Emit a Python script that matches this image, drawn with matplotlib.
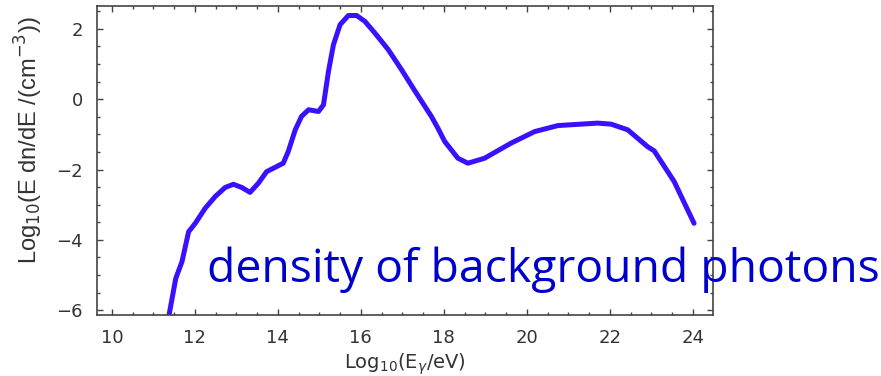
import matplotlib
matplotlib.use("Agg")
import matplotlib.pyplot as plt
from matplotlib.ticker import MultipleLocator

# curve: log10(E_gamma/eV) vs log10(E dn/dE)
log_e = [11.20, 11.37, 11.54, 11.69, 11.85, 12.01, 12.25, 12.49, 12.73, 12.93,
         13.13, 13.33, 13.53, 13.73, 13.93, 14.13, 14.25, 14.42, 14.57, 14.74,
         14.98, 15.10, 15.22, 15.34, 15.50, 15.70, 15.90, 16.10, 16.34, 16.66,
         16.98, 17.30, 17.70, 17.86, 18.02, 18.34, 18.58, 18.98, 19.62, 20.19,
         20.75, 21.71, 22.03, 22.43, 22.67, 22.91, 23.07, 23.55, 24.03]
log_n = [-6.80, -6.19, -5.10, -4.62, -3.77, -3.53, -3.10, -2.77, -2.51, -2.42,
         -2.51, -2.65, -2.39, -2.06, -1.94, -1.82, -1.49, -0.87, -0.49, -0.30,
         -0.35, -0.16, 0.79, 1.55, 2.12, 2.38, 2.38, 2.21, 1.88, 1.41,
         0.84, 0.24, -0.49, -0.83, -1.20, -1.68, -1.82, -1.68, -1.25, -0.92,
         -0.75, -0.68, -0.71, -0.87, -1.11, -1.35, -1.47, -2.34, -3.53]

x_ticks = [10, 12, 14, 16, 18, 20, 22, 24]
y_ticks = [-6, -4, -2, 0, 2]

fig = plt.figure(figsize=(8.81, 3.76), dpi=100)
ax = fig.add_axes([0.110, 0.162, 0.699, 0.822])

ax.plot(log_e, log_n, color="#3a10ff", lw=3.6, solid_capstyle="round",
        solid_joinstyle="round")

ax.set_xlim(9.64, 24.48)
ax.set_ylim(-6.14, 2.65)
ax.set_xticks(x_ticks)
ax.set_yticks(y_ticks)
ax.set_yticklabels(["\u22126", "\u22124", "\u22122", "0", "2"])
ax.xaxis.set_minor_locator(MultipleLocator(0.5))
ax.yaxis.set_minor_locator(MultipleLocator(0.5))
ax.tick_params(which="both", direction="in", top=True, right=True,
               color="#444444", width=1.0)
ax.tick_params(which="major", length=4.5, labelsize=13, labelcolor="#333333",
               labelfontfamily="DejaVu Sans", pad=10)
ax.tick_params(which="minor", length=2.5)
for s in ax.spines.values():
    s.set_color("#444444")
    s.set_linewidth(1.2)

ax.set_xlabel(r"Log$_{10}$(E$_\gamma$/eV)", fontsize=14, color="#333333",
              family="DejaVu Sans", labelpad=3)
ax.set_ylabel(r"Log$_{10}$(E dn/dE /(cm$^{-3}$))", fontsize=17, color="#333333",
              family="Liberation Sans")
ax.yaxis.set_label_coords(-0.085, 0.565)

fig.text(0.235, 0.25, "density of background photons", fontsize=33.3,
         color="#0000cc", family="Open Sans", ha="left", va="baseline")

fig.savefig("out.png", dpi=100)
